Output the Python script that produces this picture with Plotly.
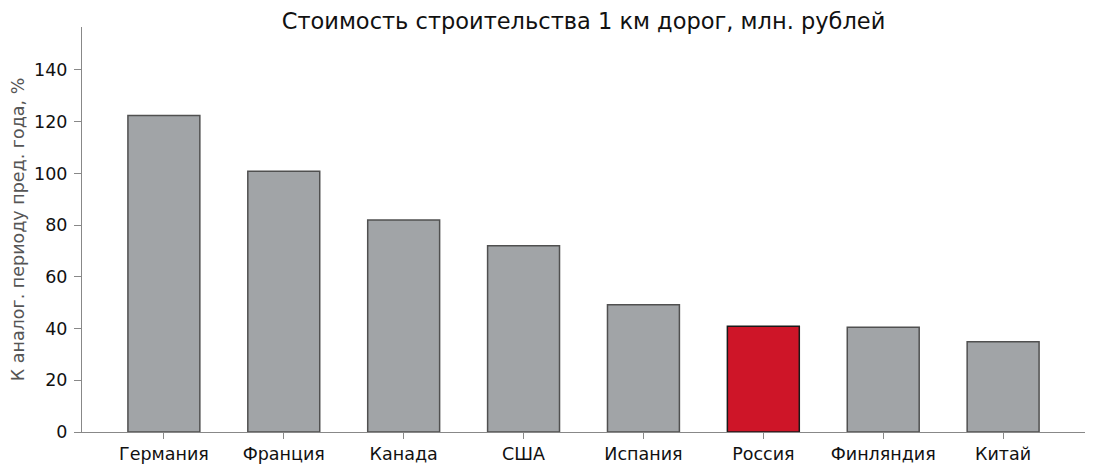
import plotly.graph_objects as go

categories = ["Германия", "Франция", "Канада", "США", "Испания", "Россия", "Финляндия", "Китай"]
values = [122.4, 100.8, 82.0, 72.0, 49.2, 40.9, 40.5, 34.9]
highlight = "Россия"

fill = ["#CE1528" if c == highlight else "#A1A4A7" for c in categories]
edge = ["#1A1A1A" if c == highlight else "#505050" for c in categories]

fig = go.Figure(go.Bar(
    x=categories, y=values, width=0.6,
    marker=dict(color=fill, line=dict(color=edge, width=1.5)),
))

font = "DejaVu Sans"
# page body has an 8px margin, so the figure is offset by 8px
W, H = 1090, 466
L, R, T, B = 74, 13, 19, 42
fig.update_layout(
    width=W, height=H,
    margin=dict(l=L, r=R, t=T, b=B, autoexpand=False),
    paper_bgcolor="white", plot_bgcolor="white",
    font=dict(family=font, size=17.5, color="#111"),
    showlegend=False,
    title=dict(text="Стоимость строительства 1 км дорог, млн. рублей",
               x=(L + (W - R)) / 2 / W, xanchor="center", y=1 - 13 / H, yanchor="middle",
               font=dict(family=font, size=22.5, color="#111")),
    xaxis=dict(range=[-0.683, 7.683], showline=True, linecolor="#888", linewidth=1,
               ticks="outside", tickcolor="#888", ticklen=6, showgrid=False,
               tickfont=dict(size=17.5)),
    yaxis=dict(range=[0, 156.6], showline=True, linecolor="#888", linewidth=1,
               ticks="outside", tickcolor="#888", ticklen=7, showgrid=False, zeroline=False,
               ticklabelstandoff=3,
               tickvals=[0, 20, 40, 60, 80, 100, 120, 140], tickfont=dict(size=17.5),
               title=dict(text="К аналог. периоду пред. года, %", standoff=6,
                          font=dict(size=17.5, color="#555"))),
)

fig.write_html("out.html")
